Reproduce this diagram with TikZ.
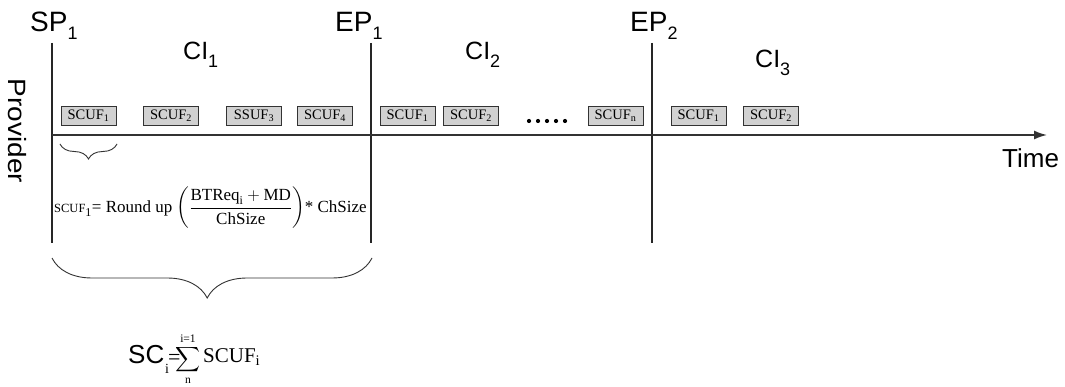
\documentclass[tikz,border=0pt]{standalone}
\usepackage{fontspec}
\usepackage{amsmath}
\setmainfont{Liberation Serif}
\newfontfamily\arialf{Liberation Sans}
\usetikzlibrary{decorations.pathreplacing,arrows.meta}
\newcommand\lowsub[1]{\raisebox{-8pt}{\fontsize{18}{18}\selectfont #1}}
\begin{document}
\begin{tikzpicture}[x=1pt,y=-1pt]
\useasboundingbox[fill=white] (0,0) rectangle (1065,387);
\tikzset{
  lbl/.style={font=\arialf\fontsize{25}{25}\selectfont, inner sep=0pt, anchor=base west},
  big/.style={font=\arialf\fontsize{28}{28}\selectfont},
  vline/.style={line width=1.1pt, draw=black!85},
  box/.style={draw=black!80, line width=0.7pt, fill=black!18, minimum width=55pt, minimum height=19pt, inner sep=0pt, font=\fontsize{14.5}{14.5}\selectfont},
  bracestyle/.style={decorate, line width=0.9pt, draw=black!80},
  dotmark/.style={circle, fill=black, inner sep=0pt, minimum size=4.2pt},
  serif/.style={inner sep=0pt, anchor=base west}
}
% labels
\node[lbl, big] (sp) at (30,32) {SP\lowsub{1}};
\node[lbl, big] (ep1) at (335,32) {EP\lowsub{1}};
\node[lbl, big] (ep2) at (630,32) {EP\lowsub{2}};
\node[lbl] (ci1) at (183,60) {CI\lowsub{1}};
\node[lbl] (ci2) at (465,60) {CI\lowsub{2}};
\node[lbl] (ci3) at (755,68) {CI\lowsub{3}};
\node[lbl, anchor=center, rotate=-90, xscale=1.12] (prov) at (17,131) {Provider};
\node[lbl, font=\arialf\fontsize{26}{26}\selectfont] (time) at (1002,168) {Time};
% vertical lines
\coordinate (spt) at (52,43);  \coordinate (spb) at (52,243);
\coordinate (e1t) at (371,43); \coordinate (e1b) at (371,243);
\coordinate (e2t) at (652,43); \coordinate (e2b) at (652,243);
\draw[vline] (spt) -- (spb);
\draw[vline] (e1t) -- (e1b);
\draw[vline] (e2t) -- (e2b);
% axis
\coordinate (ax0) at (52,135);
\coordinate (ax1) at (1047,135);
\draw[line width=1.6pt, draw=black!80, -{Latex[length=13pt,width=9pt]}] (ax0) -- (ax1);
% boxes
\node[box] (b1) at (88.5,116) {SCUF\textsubscript{1}};
\node[box] (b2) at (171,116) {SCUF\textsubscript{2}};
\node[box] (b3) at (254,116) {SSUF\textsubscript{3}};
\node[box] (b4) at (325,116) {SCUF\textsubscript{4}};
\node[box] (b5) at (407.5,116) {SCUF\textsubscript{1}};
\node[box] (b6) at (471,116) {SCUF\textsubscript{2}};
\node[box] (b7) at (615.5,116) {SCUF\textsubscript{n}};
\node[box] (b8) at (698.5,116) {SCUF\textsubscript{1}};
\node[box] (b9) at (771,116) {SCUF\textsubscript{2}};
% dots
\foreach \i in {0,...,4} { \node[dotmark] (d\i) at (529+9*\i,121) {}; }
% small brace
\coordinate (sb0) at (60,144); \coordinate (sb1) at (117,144);
\draw[bracestyle, decoration={brace, amplitude=15pt, mirror}] (sb0) -- (sb1);
% formula
\node[serif, anchor=west] (form) at (54,208) {{\fontsize{12.5}{12.5}\selectfont SCUF\textsubscript{\fontsize{12}{12}\selectfont 1}}{\fontsize{17}{17}\selectfont= Round up $\left(\dfrac{\text{BTReq}_{\text{i}}+\text{MD}}{\text{ChSize}}\right)$* ChSize}};
% large brace
\coordinate (lb0) at (52,258); \coordinate (lb1) at (372,258);
\draw[bracestyle, decoration={brace, amplitude=40pt, mirror, aspect=0.485}] (lb0) -- (lb1);
% SC formula
\node[lbl, font=\arialf\fontsize{26}{26}\selectfont] (sc) at (128,363) {SC};
\node[serif, font=\fontsize{14}{14}\selectfont] (sci) at (165,373) {i};
\node[serif, font=\fontsize{22}{22}\selectfont] (eq) at (168,364) {=};
\node[inner sep=0pt, font=\fontsize{16.5}{16.5}\selectfont] (sum) at (188,359) {$\displaystyle\sum\limits^{\text{i=1}}_{\text{n}}$};
\node[serif, font=\fontsize{21}{21}\selectfont] (scuf) at (203,362) {SCUF\textsubscript{i}};
\end{tikzpicture}
\end{document}
